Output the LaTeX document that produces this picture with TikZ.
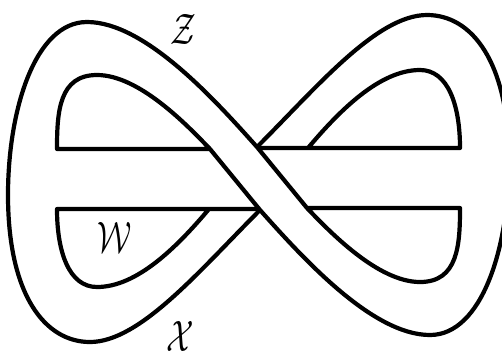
\documentclass[tikz,border=0pt]{standalone}
\begin{document}
\begin{tikzpicture}[x=1pt,y=-1pt,
  edge/.style={line width=4.2pt, line join=round, line cap=butt},
  lbl/.style={inner sep=0pt, transform shape, xscale=3.2, yscale=4.4}]
\useasboundingbox (0,0) rectangle (502,354);
\clip (0,0) rectangle (502,354);
\def\halfpaths{%
  \draw[edge] (260,210) .. controls (200,270) and (140,342) .. (90,342)
    .. controls (45,342) and (8,295) .. (8,195)
    .. controls (8,110) and (35,22) .. (87,22)
    .. controls (145,22) and (215,100) .. (257,147)
    -- (307,208)
    .. controls (330,232) and (378,282) .. (420,282)
    .. controls (458,282) and (460,245) .. (460,208)
    -- (307,208);
  \draw[edge] (257,148) -- (460,148)
    .. controls (460,105) and (448,70) .. (420,70)
    .. controls (380,70) and (340,110) .. (308,148);
}
\halfpaths
\begin{scope}[rotate around={180:(258.5,178.5)}]
\halfpaths
\end{scope}
\node[lbl] (z) at (183,29) {$\mathcal{Z}$};
\node[lbl] (w) at (115,237) {$\mathcal{W}$};
\node[lbl] (x) at (180,336) {$\mathcal{X}$};
\end{tikzpicture}
\end{document}
